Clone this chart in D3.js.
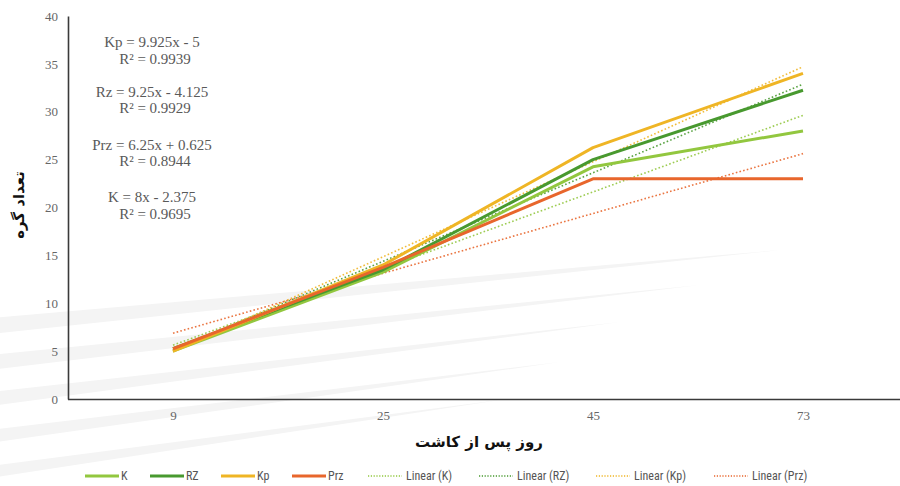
<!DOCTYPE html>
<html>
<head>
<meta charset="utf-8">
<script src="https://cdn.jsdelivr.net/npm/d3@7"></script>
<style>
  html, body { margin: 0; padding: 0; background: #ffffff; }
  svg { display: block; }
</style>
</head>
<body>
<svg id="chart" width="900" height="486"></svg>
<script>
// Days after planting (category axis)
const days = ["9", "25", "45", "73"];

// Nodule counts per treatment
const seriesNames = ["K", "RZ", "Kp", "Prz"];
const kValues   = [5, 13.25, 24.25, 28];
const rzValues  = [5.25, 13.5, 25, 32.25];
const kpValues  = [5, 14, 26.25, 34];
const przValues = [5.25, 13.75, 23, 23];

// Linear trend coefficients (y = slope * index + intercept, index from 1)
const trendSlopes     = [8, 9.25, 9.925, 6.25];
const trendIntercepts = [-2.375, -4.125, -5, 0.625];

// Equation labels shown on the chart
const equationLines = [
  ["Kp = 9.925x - 5", "R\u00B2 = 0.9939"],
  ["Rz = 9.25x - 4.125", "R\u00B2 = 0.9929"],
  ["Prz = 6.25x + 0.625", "R\u00B2 = 0.8944"],
  ["K = 8x - 2.375", "R\u00B2 = 0.9695"]
];

const yTicks = [0, 5, 10, 15, 20, 25, 30, 35, 40];

const colors = ["#92c73f", "#48992f", "#efb525", "#e8662c"];
const allValues = [kValues, rzValues, kpValues, przValues];

const svg = d3.select("#chart");

// faint watermark streaks in the lower-left background
const streaks = svg.append("g").attr("class", "streaks");
const streakBands = [
  [[-10, 318], [780, 250], [-10, 334]],
  [[-10, 355], [700, 285], [-10, 370]],
  [[-10, 392], [620, 322], [-10, 406]],
  [[-10, 430], [560, 362], [-10, 443]],
  [[-10, 466], [500, 400], [-10, 478]]
];
streaks.selectAll("path")
  .data(streakBands)
  .join("path")
  .attr("d", d => "M" + d.map(p => p.join(",")).join("L") + "Z")
  .attr("fill", "#f4f4f4");

const x = d3.scalePoint().domain(days).range([68, 908]).padding(0.5);
const y = d3.scaleLinear().domain([0, 40]).range([399, 16]);

// Y axis
const yAxis = d3.axisLeft(y).tickValues(yTicks).tickSize(0).tickPadding(10);
const gy = svg.append("g").attr("transform", "translate(68,0)").call(yAxis);
gy.select(".domain").attr("stroke", "#3a3a3a").attr("stroke-width", 1.6);
gy.selectAll("text")
  .attr("font-family", "Liberation Serif, Times New Roman, serif")
  .attr("font-size", 13).attr("fill", "#666");

// X axis
const xAxis = d3.axisBottom(x).tickSize(0).tickPadding(12);
const gx = svg.append("g").attr("transform", "translate(0,399)").call(xAxis);
gx.select(".domain").attr("d", "M68,0.5H900").attr("stroke", "#3a3a3a").attr("stroke-width", 1.6);
gx.selectAll("text")
  .attr("font-family", "Liberation Serif, Times New Roman, serif")
  .attr("font-size", 13).attr("fill", "#666");

// Trend lines (dotted)
const trendG = svg.append("g");
seriesNames.forEach((name, i) => {
  const pts = [1, days.length].map(k => [x(days[k - 1]), y(trendSlopes[i] * k + trendIntercepts[i])]);
  trendG.append("path")
    .attr("d", d3.line()(pts))
    .attr("fill", "none")
    .attr("stroke", colors[i])
    .attr("stroke-width", 1.6)
    .attr("stroke-dasharray", "1.6,2.2")
    .attr("opacity", 0.9);
});

// Data lines
const line = d3.line().x((d, j) => x(days[j])).y(d => y(d));
allValues.forEach((vals, i) => {
  svg.append("path")
    .datum(vals)
    .attr("d", line)
    .attr("fill", "none")
    .attr("stroke", colors[i])
    .attr("stroke-width", 3)
    .attr("stroke-linejoin", "round");
});

// Equation labels
const eqG = svg.append("g")
  .attr("font-family", "Liberation Serif, Times New Roman, serif")
  .attr("font-size", 15).attr("fill", "#595959").attr("text-anchor", "middle");
const eqY = [[47, 64], [97, 113], [150, 166], [202, 219]];
equationLines.forEach((pair, i) => {
  eqG.append("text").attr("x", 152).attr("y", eqY[i][0]).text(pair[0]);
  eqG.append("text").attr("x", 155).attr("y", eqY[i][1]).text(pair[1]);
});

// Axis titles
svg.append("text")
  .attr("transform", "translate(24,205) rotate(-90)")
  .attr("text-anchor", "middle")
  .attr("font-family", "DejaVu Sans, sans-serif")
  .attr("font-weight", "bold").attr("font-size", 15).attr("fill", "#111")
  .text("تعداد گره");
svg.append("text")
  .attr("x", 479).attr("y", 447)
  .attr("text-anchor", "middle")
  .attr("font-family", "DejaVu Sans, sans-serif")
  .attr("font-weight", "bold").attr("font-size", 15).attr("fill", "#111")
  .text("روز پس از کاشت");

// Legend
const legendItems = [
  { label: "K", color: colors[0], dotted: false, x: 85 },
  { label: "RZ", color: colors[1], dotted: false, x: 150 },
  { label: "Kp", color: colors[2], dotted: false, x: 221 },
  { label: "Prz", color: colors[3], dotted: false, x: 292 },
  { label: "Linear (K)", color: colors[0], dotted: true, x: 368 },
  { label: "Linear (RZ)", color: colors[1], dotted: true, x: 479 },
  { label: "Linear (Kp)", color: colors[2], dotted: true, x: 596 },
  { label: "Linear (Prz)", color: colors[3], dotted: true, x: 714 }
];
const lg = svg.append("g").attr("transform", "translate(0,476)");
legendItems.forEach(it => {
  lg.append("line")
    .attr("x1", it.x).attr("x2", it.x + 34).attr("y1", 0).attr("y2", 0)
    .attr("stroke", it.color)
    .attr("stroke-width", it.dotted ? 1.3 : 3)
    .attr("stroke-dasharray", it.dotted ? "1.2,1.6" : null);
  lg.append("text")
    .attr("x", it.x + (it.dotted ? 38 : 36)).attr("y", 4)
    .attr("font-family", "Liberation Sans Narrow, Roboto Condensed, Liberation Sans, sans-serif")
    .attr("font-size", 12).attr("fill", "#555")
    .text(it.label);
});
</script>
</body>
</html>
